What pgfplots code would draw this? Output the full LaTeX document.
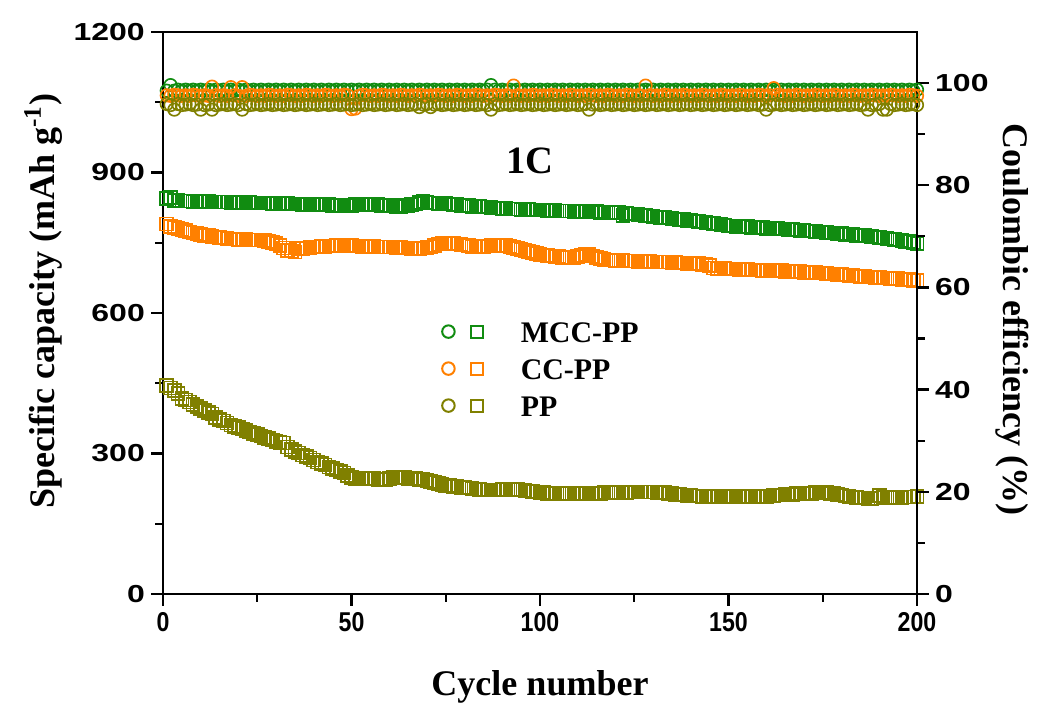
\documentclass[border=0pt]{standalone}
\usepackage{fontspec}
\setmainfont{Liberation Serif}
\newfontfamily\ticky[FakeStretch=1.3]{Liberation Sans}
\newfontfamily\tickx[FakeStretch=0.85]{Liberation Sans}
\usepackage{pgfplots}
\usepackage{pgfplotstable}
\pgfplotsset{compat=1.18}
\definecolor{mcc}{HTML}{118C11}
\definecolor{ccpp}{HTML}{FF8000}
\definecolor{pp}{HTML}{808000}

% cycle, capacity (MCC-PP, CC-PP, PP), coulombic efficiency (MCC-PP, CC-PP, PP)
\pgfplotstableread{
c mcc cc pp emcc ecc epp
1 845 790 445 98.5 97.6 95.9
2 846 785 440 99.6 97.5 95.7
3 840 782 435 98.5 97.7 94.8
4 840 780 428 98.7 97.6 95.9
5 839 778 418 98.5 97.5 95.7
6 839 776 414 98.7 97.6 95.8
7 839 773 410 98.5 97.5 95.9
8 838 771 405 98.7 97.7 95.7
9 838 770 400 98.5 97.6 95.8
10 838 768 396 98.7 97.5 94.8
11 838 766 392 98.5 97.6 95.7
12 838 765 388 98.7 97.5 95.8
13 837 763 384 98.5 99.3 94.8
14 837 762 377 98.7 97.6 95.7
15 837 761 373 98.5 97.5 95.8
16 837 760 369 98.7 97.6 95.9
17 837 759 365 98.5 97.5 95.7
18 836 758 361 98.7 99.2 95.8
19 836 758 357 98.5 97.6 95.9
20 836 757 355 98.7 97.5 95.7
21 836 757 352 98.5 99.2 94.8
22 836 757 349 98.7 97.5 95.9
23 836 756 346 98.5 97.7 95.7
24 835 756 343 98.7 97.6 95.8
25 835 756 340 98.5 97.5 95.9
26 835 756 337 98.7 97.6 95.7
27 835 755 334 98.5 97.5 95.8
28 835 753 332 98.7 97.7 95.9
29 834 750 329 98.5 97.6 95.7
30 834 748 326 98.7 97.5 95.8
31 834 744 324 98.5 97.6 95.9
32 834 739 322 98.7 97.5 95.7
33 834 734 314 98.5 97.7 95.8
34 833 732 308 98.7 97.6 95.9
35 833 730 304 98.5 97.5 95.7
36 833 737 301 98.7 97.6 95.8
37 832 738 297 98.5 97.5 95.9
38 832 739 293 98.7 97.7 95.7
39 832 740 290 98.5 97.6 95.8
40 832 741 286 98.7 97.5 95.9
41 831 741 282 98.5 97.6 95.7
42 831 742 278 98.7 97.5 95.8
43 831 742 275 98.5 97.7 95.9
44 831 743 271 98.7 97.6 95.7
45 830 743 268 98.5 97.5 95.8
46 830 744 265 98.7 97.6 95.9
47 830 744 262 98.5 97.5 95.7
48 830 745 258 98.7 97.7 95.8
49 830 745 253 98.5 97.6 95.9
50 830 744 248 98.7 94.9 95.7
51 831 743 247 98.5 95.0 95.8
52 832 743 247 98.7 97.5 95.9
53 833 742 246 98.5 97.7 95.7
54 833 742 246 98.7 97.6 95.8
55 832 742 246 98.5 97.5 95.9
56 831 742 246 98.7 97.6 95.7
57 831 741 245 98.5 97.5 95.8
58 830 741 245 98.7 97.7 95.9
59 830 741 245 98.5 97.6 95.7
60 830 741 246 98.7 97.5 95.8
61 829 741 248 98.5 97.6 95.9
62 828 740 248 98.7 97.5 95.7
63 828 740 248 98.5 97.7 95.8
64 829 739 248 98.7 97.6 95.9
65 830 739 247 98.5 97.5 95.7
66 831 738 247 98.7 97.6 95.8
67 833 738 246 98.5 97.5 95.9
68 836 738 245 98.7 97.7 95.3
69 838 739 244 98.5 97.6 95.8
70 836 740 242 98.7 97.5 95.9
71 835 741 240 98.5 97.6 95.3
72 835 744 238 98.7 97.5 95.8
73 834 747 236 98.5 97.7 95.9
74 834 749 234 98.7 97.6 95.7
75 834 749 232 98.5 97.5 95.8
76 833 749 231 98.7 97.6 95.9
77 832 748 230 98.5 97.5 95.7
78 831 747 229 98.7 97.7 95.8
79 830 746 228 98.5 97.6 95.9
80 829 745 227 98.7 97.5 95.7
81 829 744 226 98.5 97.6 95.8
82 828 742 225 98.7 97.5 95.9
83 828 741 224 98.5 97.7 95.7
84 827 741 223 98.7 97.6 95.8
85 826 742 222 98.5 97.5 95.9
86 826 743 222 98.7 97.6 95.7
87 825 744 222 99.6 97.5 94.8
88 824 744 222 98.7 97.7 95.9
89 824 745 222 98.5 97.6 95.7
90 823 745 223 98.7 97.5 95.8
91 823 744 223 98.5 97.6 95.9
92 822 742 223 98.7 97.5 95.7
93 822 740 223 98.5 99.5 95.8
94 822 737 223 98.7 97.6 95.9
95 821 735 222 98.5 97.5 95.7
96 821 733 221 98.7 97.6 95.8
97 821 731 220 98.5 97.5 95.9
98 820 729 219 98.7 97.7 95.7
99 820 727 218 98.5 97.6 95.8
100 820 725 217 98.7 97.5 95.9
101 820 724 216 98.5 97.6 95.7
102 819 723 215 98.7 97.5 95.8
103 819 722 214 98.5 97.7 95.9
104 819 721 214 98.7 97.6 95.7
105 818 720 214 98.5 97.5 95.8
106 818 719 214 98.7 97.6 95.9
107 818 718 214 98.5 97.5 95.7
108 818 717 214 98.7 97.7 95.8
109 817 718 214 98.5 97.6 95.9
110 817 721 214 98.7 97.5 95.7
111 817 724 214 98.5 97.6 95.8
112 816 726 214 98.7 97.5 95.9
113 816 725 214 98.5 97.7 94.8
114 816 722 215 98.7 97.6 95.8
115 816 718 215 98.5 97.5 95.9
116 815 716 215 98.7 97.6 95.7
117 815 714 216 98.5 97.5 95.8
118 815 713 216 98.7 97.7 95.9
119 815 713 216 98.5 97.6 95.7
120 815 712 217 98.7 97.5 95.8
121 814 712 217 98.5 97.6 95.9
122 808 712 217 98.7 97.5 95.7
123 812 711 217 98.5 97.7 95.8
124 811 711 218 98.7 97.6 95.9
125 811 711 218 98.5 97.5 95.7
126 810 710 218 98.7 97.6 95.8
127 809 710 218 98.5 97.5 95.9
128 808 710 218 98.7 99.5 95.7
129 807 710 218 98.5 97.6 95.8
130 806 709 218 98.7 97.5 95.9
131 805 709 217 98.5 97.6 95.7
132 804 709 217 98.7 97.5 95.8
133 804 709 216 98.5 97.7 95.9
134 803 709 215 98.7 97.6 95.7
135 802 708 214 98.5 97.5 95.8
136 801 708 213 98.7 97.6 95.9
137 800 707 212 98.5 97.5 95.7
138 799 707 211 98.7 97.7 95.8
139 798 706 210 98.5 97.6 95.9
140 797 706 210 98.7 97.5 95.7
141 796 705 209 98.5 97.6 95.8
142 795 705 209 98.7 97.5 95.9
143 794 704 208 98.5 97.7 95.7
144 793 703 208 98.7 97.6 95.8
145 792 702 208 98.5 97.5 95.9
146 791 696 208 98.7 97.6 95.7
147 790 695 208 98.5 97.5 95.8
148 789 695 208 98.7 97.7 95.9
149 788 695 208 98.5 97.6 95.7
150 786 694 208 98.7 97.5 95.8
151 786 694 208 98.5 97.6 95.9
152 785 694 208 98.7 97.5 95.7
153 785 693 208 98.5 97.7 95.8
154 784 693 208 98.7 97.6 95.9
155 784 693 208 98.5 97.5 95.7
156 783 692 208 98.7 97.6 95.8
157 783 692 208 98.5 97.5 95.9
158 782 692 208 98.7 97.7 95.7
159 782 691 208 98.5 97.6 95.8
160 781 691 208 98.7 97.5 94.8
161 781 691 209 98.5 97.6 95.7
162 780 690 210 98.7 99.0 95.8
163 780 690 211 98.5 97.7 95.9
164 779 690 211 98.7 97.6 95.7
165 779 689 212 98.5 97.5 95.8
166 778 689 213 98.7 97.6 95.9
167 778 688 213 98.5 97.5 95.7
168 777 688 214 98.7 97.7 95.8
169 776 688 214 98.5 97.6 95.9
170 776 687 215 98.7 97.5 95.7
171 775 687 215 98.5 97.6 95.8
172 775 686 215 98.7 97.5 95.9
173 774 686 216 98.5 97.7 95.7
174 773 685 216 98.7 97.6 95.8
175 773 685 216 98.5 97.5 95.9
176 772 684 216 98.7 97.6 95.7
177 771 683 215 98.5 97.5 95.8
178 771 683 214 98.7 97.7 95.9
179 770 682 212 98.5 97.6 95.7
180 769 682 211 98.7 97.5 95.8
181 768 681 209 98.5 97.6 95.9
182 768 680 208 98.7 97.5 95.7
183 767 680 207 98.5 97.7 95.8
184 766 679 206 98.7 97.6 95.9
185 765 678 205 98.5 97.5 95.7
186 765 678 205 98.7 97.6 95.8
187 764 677 204 98.5 97.5 94.8
188 763 677 204 98.7 97.7 95.7
189 762 676 205 98.5 97.6 95.8
190 761 676 210 98.7 97.5 95.9
191 760 675 206 98.5 97.6 94.8
192 759 675 205 98.7 97.5 94.8
193 758 674 205 98.5 97.7 95.9
194 757 673 206 98.7 97.6 95.7
195 756 673 206 98.5 97.5 95.8
196 755 672 206 98.7 97.6 95.9
197 753 671 207 98.5 97.5 95.7
198 752 671 207 98.7 97.7 95.8
199 750 670 207 98.5 97.6 95.9
200 748 669 208 98.7 97.5 95.7
}\cycling

\pgfplotsset{
  common/.style={
    scale only axis, width=150.8mm, height=112.4mm,
    xmin=0, xmax=200, clip=false,
    tick align=outside,
    major tick length=2.4mm, minor tick length=1.6mm,
    every tick/.style={black, line width=0.45mm},
    axis line style={line width=0.55mm},
    /pgf/number format/assume math mode=true,
    /pgf/number format/1000 sep={},
    yticklabel style={font=\ticky\bfseries\fontsize{14}{14}\selectfont},
    xticklabel style={font=\tickx\bfseries\fontsize{15.5}{15.5}\selectfont},
    label style={font=\bfseries\fontsize{20.5}{20.5}\selectfont},
    mark options={solid, line width=0.33mm},
  },
  sq/.style={only marks, mark=square, mark size=1.3mm, forget plot, #1},
  ci/.style={only marks, mark=o, mark size=1.25mm, forget plot, #1},
  both marks/.style={legend image code/.code={
    \draw[#1, line width=0.4mm] (1.6mm,0mm) circle (1.25mm);
    \draw[#1, line width=0.4mm] (6.2mm,-1.2mm) rectangle (8.6mm,1.2mm);
    \path (0,0) (16mm,0);}},
}

\begin{document}
\begin{tikzpicture}
\begin{axis}[common,
  ymin=0, ymax=1200,
  xtick={0,50,...,200}, ytick={0,300,...,1200},
  minor x tick num=1, minor y tick num=1,
  xtick pos=bottom, ytick pos=left,
  xlabel={Cycle number},
  ylabel={Specific capacity (mAh g\textsuperscript{-1})},
  xlabel style={at={(axis description cs:0.5,-0.166)}, anchor=center},
  ylabel style={at={(axis description cs:-0.159,0.521)}, anchor=center},
  legend style={at={(axis description cs:0.367,0.401)}, anchor=west,
    draw=none, fill=none, inner sep=0pt, row sep=3.2mm,
    font=\bfseries\fontsize{17}{17}\selectfont,
    nodes={inner xsep=0pt, inner ysep=0pt, text height=4.2mm, text depth=0pt}},
  legend cell align=left]
  \addplot[sq=mcc] table[x=c, y=mcc] {\cycling};
  \addplot[sq=ccpp] table[x=c, y=cc] {\cycling};
  \addplot[sq=pp] table[x=c, y=pp] {\cycling};
  \addlegendimage{both marks=mcc}
  \addlegendentry{MCC-PP}
  \addlegendimage{both marks=ccpp}
  \addlegendentry{CC-PP}
  \addlegendimage{both marks=pp}
  \addlegendentry{PP}
  \node[font=\bfseries\fontsize{22}{22}\selectfont] at (axis cs:97.3,924) {1C};
\end{axis}
\begin{axis}[common,
  axis x line=none, axis y line*=right,
  ymin=0, ymax=110,
  ytick={0,20,...,100}, minor y tick num=1,
  ylabel={Coulombic efficiency (\%)},
  ylabel style={at={(axis description cs:1.126,0.488)}, anchor=center, rotate=180}]
  \addplot[ci=mcc] table[x=c, y=emcc] {\cycling};
  \addplot[ci=ccpp] table[x=c, y=ecc] {\cycling};
  \addplot[ci=pp] table[x=c, y=epp] {\cycling};
  \path (axis description cs:-0.2162,-0.1922) (axis description cs:1.1605,1.0569);
\end{axis}
\end{tikzpicture}
\end{document}
